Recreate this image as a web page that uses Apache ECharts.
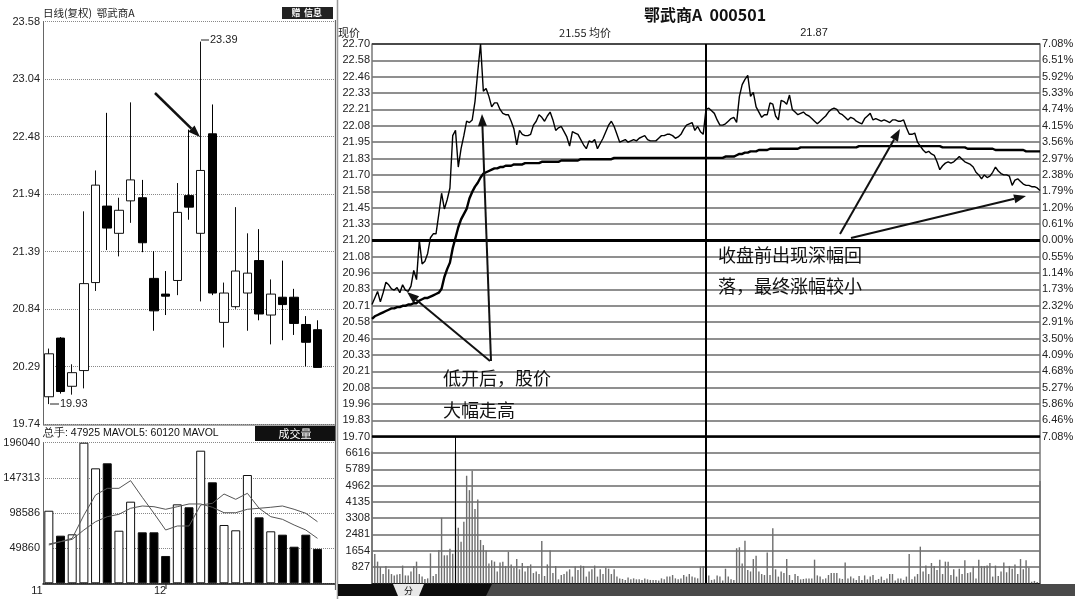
<!DOCTYPE html>
<html><head><meta charset="utf-8">
<script src="https://cdn.jsdelivr.net/npm/echarts@6/dist/echarts.min.js"></script>
<style>html,body{margin:0;padding:0;background:#fff}#c{width:1079px;height:599px}</style>
</head><body><div id="c"></div><script>
// ---------- daily candles (left) ----------
const dayOpen  = [20.00,20.56,20.10,20.25,21.09,21.82,21.56,21.87,21.90,21.13,20.98,21.11,21.92,21.56,22.51,20.71,20.86,20.99,21.30,20.78,20.95,20.95,20.69,20.64];
const dayClose = [20.41,20.05,20.23,21.08,22.02,21.61,21.78,22.07,21.47,20.82,20.96,21.76,21.81,22.16,20.99,20.99,21.20,21.18,20.79,20.98,20.88,20.70,20.52,20.28];
const dayLow   = [19.93,20.03,20.02,20.08,21.01,21.40,21.34,21.66,21.38,20.63,20.78,20.97,21.69,20.91,20.97,20.47,20.84,20.63,20.73,20.50,20.54,20.59,20.29,20.28];
const dayHigh  = [20.46,20.57,20.31,21.77,22.16,22.71,21.90,22.81,22.07,21.39,21.20,22.04,22.55,23.39,22.79,21.09,21.81,21.56,21.60,21.12,21.30,21.03,20.77,20.73];
const dayVol   = [101200,66400,68300,196040,160300,167300,73300,113800,71100,71100,38100,110100,106000,184900,140800,81300,73900,151000,92000,72500,67800,51000,67800,47925];
const mavol5   = [54800,58000,62700,95000,123100,132400,132400,143100,119900,97600,74300,79900,79900,109200,111500,124500,117100,125500,104600,92900,89200,81300,74300,62700];
const mavol10  = [53400,58000,61300,74300,85900,92900,96200,104600,107800,106800,103200,106800,110600,110600,106000,98400,98400,103200,104600,106000,107800,103200,97600,85900];
const dayTicks = ['19.74','20.29','20.84','21.39','21.94','22.48','23.04','23.58'];
const dayVolTicks = ['','49860','98586','147313','196040'];

// ---------- intraday (right) ----------
const minutePrice = [
20.71,20.76,20.81,20.73,20.80,20.88,20.86,20.83,20.82,20.84,
20.80,20.86,20.82,20.81,20.85,20.97,20.90,21.20,21.02,21.04,
21.10,21.22,21.25,21.25,21.40,21.56,21.44,21.51,21.60,22.00,
22.04,21.76,21.90,22.00,22.11,22.10,22.12,22.26,22.49,22.70,
22.34,22.36,22.30,22.22,22.25,22.25,22.20,22.17,22.16,22.16,
22.11,22.05,21.93,22.04,22.01,22.00,22.00,22.01,22.08,22.11,
22.16,22.14,22.11,22.15,22.18,22.12,22.04,22.06,22.07,22.03,
21.99,21.92,22.03,22.02,22.01,21.97,21.93,21.90,21.96,21.95,
21.97,21.90,21.94,21.98,22.03,22.08,22.11,22.07,22.01,21.95,
21.96,21.97,21.95,21.96,21.97,21.96,21.98,21.99,22.00,21.97,
21.96,21.96,21.96,21.98,22.00,22.00,22.01,22.01,22.00,21.98,
21.99,22.01,22.05,22.08,22.09,22.10,22.04,22.07,22.03,22.01,
22.20,22.21,22.19,22.17,22.12,22.08,22.08,22.09,22.11,22.13,
22.14,22.10,22.30,22.39,22.43,22.46,22.30,22.33,22.22,22.18,
22.14,22.16,22.16,22.25,22.24,22.15,22.12,22.27,22.26,22.24,
22.31,22.20,22.18,22.16,22.17,22.18,22.16,22.15,22.13,22.11,
22.09,22.11,22.13,22.15,22.18,22.20,22.21,22.20,22.17,22.16,
22.14,22.12,22.14,22.13,22.11,22.10,22.09,22.13,22.15,22.17,
22.12,22.13,22.12,22.11,22.12,22.11,22.10,22.12,22.12,22.11,
22.11,22.12,22.06,22.01,22.01,22.02,21.95,21.92,21.89,21.87,
21.88,21.86,21.85,21.80,21.74,21.77,21.79,21.80,21.79,21.80,
21.82,21.84,21.82,21.80,21.79,21.78,21.76,21.72,21.70,21.67,
21.70,21.68,21.69,21.72,21.76,21.73,21.71,21.70,21.70,21.69,
21.62,21.66,21.67,21.65,21.63,21.62,21.62,21.61,21.61,21.60,
21.58];
const minuteAvg = [
20.60,20.62,20.63,20.64,20.65,20.66,20.67,20.68,20.68,20.69,
20.69,20.70,20.70,20.71,20.71,20.72,20.72,20.74,20.75,20.76,
20.76,20.77,20.78,20.79,20.80,20.83,20.92,20.98,21.03,21.14,
21.22,21.30,21.36,21.40,21.44,21.52,21.57,21.61,21.64,21.68,
21.71,21.72,21.73,21.74,21.75,21.75,21.76,21.76,21.77,21.77,
21.77,21.78,21.78,21.78,21.78,21.79,21.79,21.79,21.79,21.79,
21.79,21.80,21.80,21.80,21.80,21.80,21.80,21.80,21.81,21.81,
21.81,21.81,21.81,21.81,21.81,21.82,21.82,21.82,21.82,21.82,
21.82,21.82,21.82,21.82,21.82,21.82,21.82,21.83,21.83,21.83,
21.83,21.83,21.83,21.83,21.83,21.83,21.83,21.83,21.83,21.83,
21.83,21.83,21.83,21.83,21.83,21.83,21.83,21.83,21.83,21.83,
21.83,21.83,21.83,21.83,21.83,21.83,21.83,21.83,21.83,21.83,
21.83,21.83,21.83,21.83,21.83,21.83,21.83,21.84,21.84,21.84,
21.84,21.85,21.86,21.86,21.87,21.87,21.88,21.88,21.88,21.89,
21.89,21.89,21.89,21.90,21.90,21.90,21.90,21.90,21.90,21.90,
21.90,21.90,21.90,21.90,21.91,21.91,21.91,21.91,21.91,21.91,
21.91,21.91,21.91,21.91,21.91,21.91,21.91,21.91,21.91,21.91,
21.91,21.91,21.91,21.91,21.91,21.92,21.92,21.92,21.92,21.92,
21.92,21.92,21.92,21.92,21.92,21.92,21.92,21.92,21.92,21.92,
21.92,21.92,21.92,21.92,21.92,21.92,21.92,21.92,21.92,21.92,
21.92,21.92,21.92,21.92,21.92,21.91,21.91,21.91,21.91,21.91,
21.91,21.91,21.91,21.91,21.90,21.90,21.90,21.90,21.90,21.90,
21.90,21.90,21.90,21.90,21.89,21.89,21.89,21.89,21.89,21.89,
21.89,21.89,21.89,21.89,21.89,21.88,21.88,21.88,21.88,21.88,
21.88];
const minuteVol = [
6700,1486,1100,827,470,880,710,470,400,450,
470,900,400,400,600,880,1100,470,340,220,
250,1520,370,470,1690,3330,1420,1420,1760,1500,
6700,2820,2110,3130,5460,4730,5710,3770,4250,2200,
1940,1660,1000,1170,1100,600,1050,1100,880,1600,
960,790,1230,710,1030,600,880,960,520,600,
470,2150,370,960,1660,520,880,200,420,470,
600,710,340,850,680,900,880,340,600,710,
900,340,710,470,790,740,470,710,340,250,
220,170,300,200,250,200,200,170,250,200,
170,170,170,140,250,200,340,340,420,250,
200,250,420,340,470,340,300,250,850,880,
1170,
400,170,200,400,340,140,740,340,200,170,
1780,1830,1000,2160,680,600,1230,1400,600,470,
420,1570,420,2790,710,340,600,520,1230,420,
170,470,370,200,220,240,250,250,1200,400,
340,200,250,420,520,520,520,250,220,1050,
250,340,250,170,370,170,400,200,340,420,
170,220,340,170,250,470,470,140,250,250,
170,340,1490,200,340,470,1860,600,900,470,
1030,880,680,1200,470,1100,1100,420,710,340,
740,470,1170,520,560,850,250,1200,880,880,
900,1030,340,900,370,600,1050,560,880,740,
960,470,1230,710,1170,790,80,
120,60,5200];
const priceTicks = ['19.70','19.83','19.96','20.08','20.21','20.33','20.46','20.58','20.71','20.83','20.96','21.08','21.20','21.33','21.45','21.58','21.70','21.83','21.95','22.08','22.21','22.33','22.46','22.58','22.70'];
const pctTicks = ['7.08%','6.46%','5.86%','5.27%','4.68%','4.09%','3.50%','2.91%','2.32%','1.73%','1.14%','0.55%','0.00%','0.61%','1.20%','1.79%','2.38%','2.97%','3.56%','4.15%','4.74%','5.33%','5.92%','6.51%','7.08%'];
const minVolTicks = ['','827','1654','2481','3308','4135','4962','5789','6616',''];

// minute categories 09:30-11:30, 13:01-15:00
function hm(t){const h=Math.floor(t/60),m=t%60;return (h<10?'0':'')+h+':'+(m<10?'0':'')+m;}
const minuteTimes=[];
for(let t=570;t<=690;t++)minuteTimes.push(hm(t));
for(let t=781;t<=900;t++)minuteTimes.push(hm(t));
const dayCats = dayOpen.map((_,i)=>'D'+(i+1)).concat(['']);

const LS = 'Liberation Sans, Arial, sans-serif';
const LSN = '"Liberation Sans Narrow", "Liberation Sans", Arial, sans-serif';
const CJK = '"Noto Sans CJK SC", sans-serif';

const dMin=19.74,dMax=23.58,dInt=(dMax-dMin)/7;
const pMin=19.70,pMax=22.70,pInt=0.125;

function arrow(x1,y1,x2,y2,w){
  const a=Math.atan2(y2-y1,x2-x1),L=12,W=4.5;
  const bx=x2-L*Math.cos(a),by=y2-L*Math.sin(a);
  const px=-Math.sin(a)*W,py=Math.cos(a)*W;
  return [{type:'line',z:100,shape:{x1:x1,y1:y1,x2:bx,y2:by},style:{stroke:'#111',lineWidth:w}},
          {type:'polygon',z:100,shape:{points:[[x2,y2],[bx+px,by+py],[bx-px,by-py]]},style:{fill:'#111'}}];
}
function txt(x,y,s,font,fill,align){
  return {type:'text',z:100,x:x,y:y,style:{text:s,font:font,fill:fill||'#111',align:align||'left',verticalAlign:'middle',textAlign:align||'left',textVerticalAlign:'middle'}};
}
function ln(x1,y1,x2,y2,c,w){return {type:'line',z:90,shape:{x1:x1,y1:y1,x2:x2,y2:y2},style:{stroke:c,lineWidth:w}};}

const graphics = [].concat(
  [txt(705,15,'鄂武商A  000501','bold 16px '+CJK,'#111','center'),
   txt(338,33,'现价','11px '+CJK,'#222'),
   txt(585,33,'21.55 均价','11px '+CJK,'#222','center'),
   txt(814,33,'21.87','11px '+LS,'#222','center'),
   txt(43,13,'日线(复权)  鄂武商A','10.5px '+CJK,'#222'),
   {type:'rect',z:95,shape:{x:282,y:7,width:51,height:12},style:{fill:'#222'}},
   txt(296,13,'赠','bold 9px '+CJK,'#fff','center'),
   txt(313,13,'信息','bold 9px '+CJK,'#fff','center'),
   ln(201,40,209,40,'#222',1), txt(210,40,'23.39','11px '+LS,'#222'),
   ln(50,404,59,404,'#222',1), txt(60,404,'19.93','11px '+LS,'#222'),
   ln(43,425,335,425,'#555',1),
   txt(43,433,'总手: 47925 MAVOL5: 60120 MAVOL','10.5px '+LSN,'#111'),
   {type:'rect',z:95,shape:{x:255,y:426,width:80,height:15},style:{fill:'#111'}},
   txt(295,433.5,'成交量','11px '+CJK,'#fff','center'),
   txt(37,591,'11','11px '+LS,'#222','center'),
   txt(160,591,'12','11px '+LS,'#222','center'),
   ln(166,583,166,589,'#222',1),
   ln(335.5,20,335.5,590,'#666',1.2),
   ln(337.5,0,337.5,599,'#999',1.5),
   {type:'rect',z:95,shape:{x:338,y:584,width:737,height:12},style:{fill:'#4a4a4a'}},
   {type:'polygon',z:96,shape:{points:[[338,584],[492,584],[486,596],[338,596]]},style:{fill:'#0d0d0d'}},
   {type:'polygon',z:97,shape:{points:[[393,584],[424,584],[419,596],[398,596]]},style:{fill:'#e8e8e8'}},
   txt(408.5,590.5,'分','9px '+CJK,'#111','center'),
   ln(362,584,367,596,'#bbb',1), ln(441,584,446,596,'#bbb',1), ln(462,584,467,596,'#bbb',1),
   txt(443,378,'低开后，股价','18px '+CJK,'#111'),
   txt(443,410,'大幅走高','18px '+CJK,'#111'),
   txt(718,255,'收盘前出现深幅回','18px '+CJK,'#111'),
   txt(718,286,'落，最终涨幅较小','18px '+CJK,'#111')
  ],
  arrow(155,93,200,137,2.5),
  arrow(490,361,407,292,2),
  arrow(491,361,482,114,2),
  arrow(840,234,900,129,2),
  arrow(851,238,1026,196,2)
);

const chart = echarts.init(document.getElementById('c'));
chart.setOption({
  animation:false,
  backgroundColor:'#fff',
  textStyle:{fontFamily:LS},
  grid:[
    {left:43,top:21.7,width:292,height:402.3},
    {left:43,top:442.7,width:292,height:140.6},
    {left:372,top:44,width:668,height:392.7},
    {left:372,top:436.7,width:668,height:146.6}
  ],
  xAxis:[
    {gridIndex:0,type:'category',data:dayCats,boundaryGap:true,axisLine:{show:false},axisTick:{show:false},axisLabel:{show:false},splitLine:{show:false}},
    {gridIndex:1,type:'category',data:dayCats,boundaryGap:true,axisLine:{show:true,lineStyle:{color:'#111',width:1.5}},axisTick:{show:false},axisLabel:{show:false}},
    {gridIndex:2,type:'category',data:minuteTimes,boundaryGap:false,axisLine:{show:false},axisTick:{show:false},axisLabel:{show:false}},
    {gridIndex:3,type:'category',data:minuteTimes,boundaryGap:false,axisLine:{show:true,lineStyle:{color:'#111',width:1}},axisTick:{show:false},axisLabel:{show:false}}
  ],
  yAxis:[
    {gridIndex:0,type:'value',min:dMin,max:dMax,interval:dInt,
     axisLine:{show:true,lineStyle:{color:'#666'}},axisTick:{show:false},
     axisLabel:{margin:3,fontSize:11,color:'#222',fontFamily:LS,formatter:v=>dayTicks[Math.round((v-dMin)/dInt)]||''},
     splitLine:{show:true,lineStyle:{color:'#888',type:'dotted',width:1}}},
    {gridIndex:1,type:'value',min:0,max:196040,interval:49010,
     axisLine:{show:true,lineStyle:{color:'#666'}},axisTick:{show:false},
     axisLabel:{margin:3,fontSize:11,color:'#222',fontFamily:LS,formatter:v=>dayVolTicks[Math.round(v/49010)]||''},
     splitLine:{show:true,lineStyle:{color:'#888',type:'dotted',width:1}}},
    {gridIndex:2,type:'value',min:pMin,max:pMax,interval:pInt,
     axisLine:{show:true,lineStyle:{color:'#777',width:1.5}},axisTick:{show:false},
     axisLabel:{margin:2,fontSize:11,color:'#222',fontFamily:LSN,formatter:v=>priceTicks[Math.round((v-pMin)/pInt)]||''},
     splitLine:{show:true,lineStyle:{color:'#6a6a6a',width:1.5}}},
    {gridIndex:2,type:'value',position:'right',min:pMin,max:pMax,interval:pInt,
     axisLine:{show:true,lineStyle:{color:'#777',width:1.5}},axisTick:{show:false},
     axisLabel:{margin:2,fontSize:11,color:'#222',fontFamily:LSN,formatter:v=>pctTicks[Math.round((v-pMin)/pInt)]||''},
     splitLine:{show:false}},
    {gridIndex:3,type:'value',min:0,max:7443,interval:827,
     axisLine:{show:true,lineStyle:{color:'#777',width:1.5}},axisTick:{show:false},
     axisLabel:{margin:2,fontSize:11,color:'#222',fontFamily:LSN,formatter:v=>minVolTicks[Math.round(v/827)]||''},
     splitLine:{show:true,lineStyle:{color:'#6a6a6a',width:1.5}}},
    {gridIndex:3,type:'value',position:'right',min:0,max:7443,interval:827,
     axisLine:{show:true,lineStyle:{color:'#777',width:1.5}},axisTick:{show:false},axisLabel:{show:false},splitLine:{show:false}}
  ],
  series:[
    {type:'candlestick',xAxisIndex:0,yAxisIndex:0,barWidth:9,
     data:dayOpen.map((o,i)=>[o,dayClose[i],dayLow[i],dayHigh[i]]),
     itemStyle:{color:'#fff',color0:'#000',borderColor:'#111',borderColor0:'#000',borderWidth:1}},
    {type:'bar',xAxisIndex:1,yAxisIndex:1,barWidth:9,
     data:dayVol.map((v,i)=>({value:v,itemStyle:{color:dayClose[i]>=dayOpen[i]?'#fff':'#000',borderColor:'#111',borderWidth:1}}))},
    {type:'line',xAxisIndex:1,yAxisIndex:1,data:mavol5,symbol:'none',lineStyle:{color:'#555',width:1}},
    {type:'line',xAxisIndex:1,yAxisIndex:1,data:mavol10,symbol:'none',lineStyle:{color:'#555',width:1}},
    {type:'line',xAxisIndex:2,yAxisIndex:2,data:minutePrice,symbol:'none',z:5,lineStyle:{color:'#000',width:1.4},
     markLine:{silent:true,symbol:'none',label:{show:false},animation:false,
       data:[{yAxis:21.20,lineStyle:{color:'#000',width:3,type:'solid'}},
             {yAxis:19.70,lineStyle:{color:'#000',width:2.5,type:'solid'}},
             {yAxis:22.70,lineStyle:{color:'#333',width:1.5,type:'solid'}},
             {xAxis:minuteTimes[120],lineStyle:{color:'#000',width:2,type:'solid'}}]}},
    {type:'line',xAxisIndex:2,yAxisIndex:2,data:minuteAvg,symbol:'none',z:4,lineStyle:{color:'#000',width:2.4}},
    {type:'bar',xAxisIndex:3,yAxisIndex:4,data:minuteVol,barWidth:1.4,itemStyle:{color:'#6e6e6e'},
     markLine:{silent:true,symbol:'none',label:{show:false},animation:false,
       data:[{xAxis:minuteTimes[120],lineStyle:{color:'#000',width:2,type:'solid'}},
             {xAxis:minuteTimes[30],lineStyle:{color:'#000',width:1,type:'solid'}}]}}
  ],
  graphic:graphics
});
</script></body></html>
